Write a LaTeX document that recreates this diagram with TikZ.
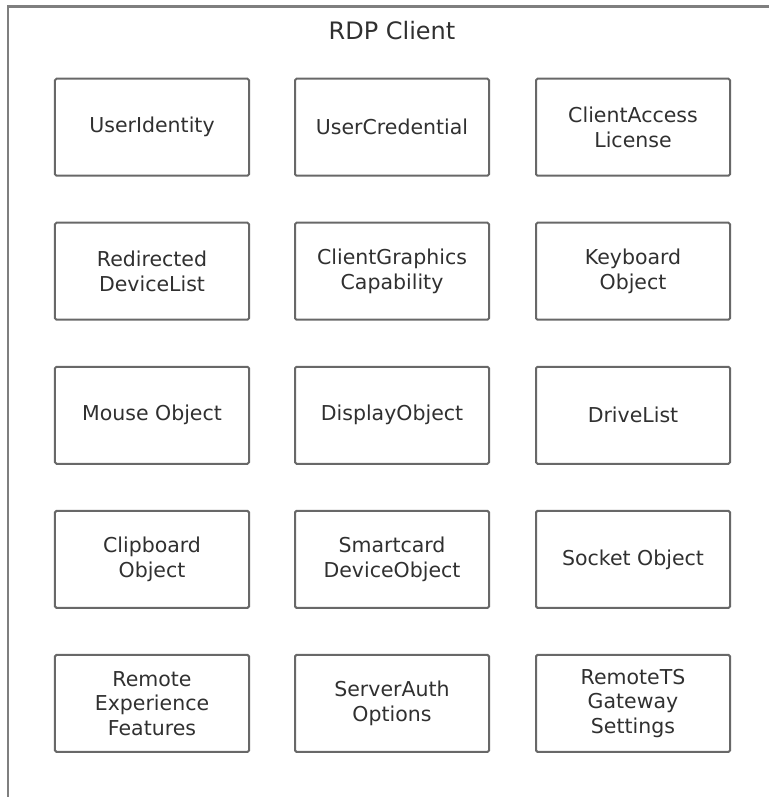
\documentclass[tikz,border=0pt]{standalone}
\usepackage{fontspec}
\setmainfont{DejaVu Sans}
\definecolor{framegray}{RGB}{104,104,104}
\definecolor{textgray}{RGB}{48,48,48}

\begin{document}
\begin{tikzpicture}[x=1bp, y=-1bp,
  objbox/.style={draw=framegray, line width=2bp, rounded corners=1.5bp,
    minimum width=194bp, minimum height=97bp, inner sep=0pt, align=center,
    text=textgray, font=\fontsize{20.5bp}{24.5bp}\selectfont}]
  \useasboundingbox (0,0) rectangle (769,797);
  \clip (0,0) rectangle (769,797);
  % outer frame, only partly on the page
  \draw[framegray!85, line width=2.6bp] (8,820) -- (8,6.5) -- (790,6.5);
  \node[anchor=base, text=textgray, font=\fontsize{24bp}{28bp}\selectfont] (title) at (392,40) {RDP Client};
  % row 1
  \node[objbox] (uid) at (152,127.2) {UserIdentity};
  \node[objbox] (ucred) at (392,127.2) {UserCredential};
  \node[objbox] (cal) at (633,127.2) {ClientAccess\\License};
  % row 2
  \node[objbox] (rdl) at (152,271.2) {Redirected\\DeviceList};
  \node[objbox] (cgc) at (392,271.2) {ClientGraphics\\Capability};
  \node[objbox] (kbd) at (633,271.2) {Keyboard\\Object};
  % row 3
  \node[objbox] (mouse) at (152,415.3) {Mouse Object};
  \node[objbox] (disp) at (392,415.3) {DisplayObject};
  \node[objbox] (drv) at (633,415.3) {DriveList};
  % row 4
  \node[objbox] (clipb) at (152,559.4) {Clipboard\\Object};
  \node[objbox] (scard) at (392,559.4) {Smartcard\\DeviceObject};
  \node[objbox] (sock) at (633,559.4) {Socket Object};
  % row 5
  \node[objbox] (rexp) at (152,703.4) {Remote\\Experience\\Features};
  \node[objbox] (sauth) at (392,703.4) {ServerAuth\\Options};
  \node[objbox] (tsgw) at (633,703.4) {RemoteTS\\Gateway\\Settings};
\end{tikzpicture}
\end{document}
